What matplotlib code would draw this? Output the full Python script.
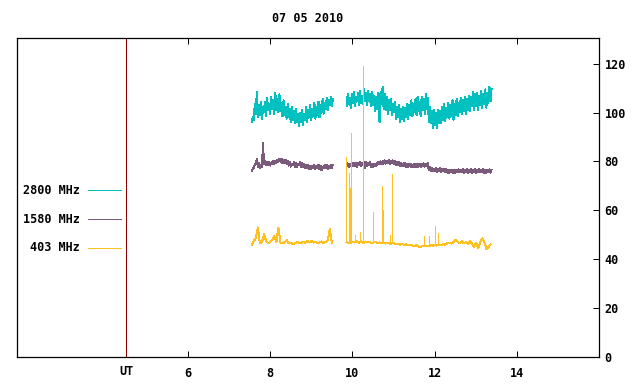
import numpy as np
import matplotlib
matplotlib.use("Agg")
import matplotlib.pyplot as plt
from matplotlib.transforms import blended_transform_factory

plt.rcParams['font.family'] = ['DejaVu Sans Mono']
plt.rcParams['font.weight'] = 'bold'

title = "07 05 2010"
series_labels = ["2800 MHz", "1580 MHz", "403 MHz"]
series_colors = ["#00c0c0", "#7b5b7b", "#ffc020"]
x_ticks = [6, 8, 10, 12, 14]
x_ticklabels = ["6", "8", "10", "12", "14"]
y_ticks = [0, 20, 40, 60, 80, 100, 120]
ut_position = 4.5

# sample times (hours UT) of each segment
seg1_start, seg2_start, step = 7.55, 9.86, 0.05

# 2800 MHz: low / high of each sample
cyan1_lo = [96.0, 97.0, 99.5, 98.0, 99.0, 97.5, 100.0, 98.5, 101.0, 99.5,
            101.5, 99.5, 101.0, 100.0, 100.5, 98.5, 99.0, 97.5, 98.0, 96.0,
            97.0, 95.5, 96.0, 94.5, 96.0, 95.0, 97.0, 96.0, 98.0, 97.0,
            98.5, 97.5, 99.0, 98.0, 100.0, 99.5, 101.5, 101.0, 103.0, 102.5]
cyan1_hi = [98.0, 103.5, 108.5, 103.0, 104.5, 102.5, 104.5, 106.0, 103.5, 106.5,
            105.0, 108.0, 105.5, 107.5, 104.0, 105.0, 102.5, 103.5, 101.5, 102.5,
            100.5, 101.5, 99.5, 100.0, 101.0, 99.5, 102.5, 101.0, 103.0, 101.5,
            104.0, 102.5, 104.5, 103.0, 105.5, 104.0, 106.0, 105.0, 106.5, 105.5]
cyan2_lo = [102.5, 103.5, 102.0, 104.0, 102.5, 104.5, 103.0, 104.0, 103.5, 104.5,
            103.0, 104.5, 102.5, 103.0, 100.5, 101.5, 96.0, 103.5, 101.5, 101.0,
            99.5, 101.0, 99.0, 100.0, 97.5, 98.0, 96.0, 97.5, 96.5, 98.0,
            97.5, 99.0, 98.5, 100.0, 99.0, 100.5, 98.5, 101.0, 99.5, 101.5,
            96.0, 95.5, 93.5, 95.0, 93.5, 95.5, 95.5, 97.0, 96.5, 98.0,
            97.5, 98.5, 97.0, 99.0, 98.5, 100.0, 99.5, 100.5, 99.5, 101.0,
            100.5, 102.5, 101.0, 102.5, 101.0, 103.0, 102.0, 103.5, 102.0, 104.0,
            104.5]
cyan2_hi = [107.5, 106.0, 107.5, 108.5, 106.5, 108.0, 109.0, 107.0, 109.5, 108.0,
            109.0, 107.5, 108.5, 107.0, 106.5, 108.0, 108.5, 110.5, 107.5, 106.5,
            105.0, 105.5, 103.5, 104.5, 102.5, 103.0, 101.5, 102.5, 102.0, 103.5,
            103.0, 105.0, 103.5, 105.5, 106.5, 104.5, 106.5, 105.5, 107.5, 106.0,
            102.5, 100.5, 101.0, 100.0, 101.0, 100.5, 102.5, 103.5, 102.0, 104.0,
            103.0, 105.0, 103.5, 105.5, 104.0, 106.0, 105.0, 106.5, 105.5, 107.0,
            106.5, 108.5, 107.5, 108.0, 107.0, 109.0, 107.5, 109.5, 108.0, 110.5,
            109.5]

# 1580 MHz
purple1_lo = [76.0, 77.4, 79.2, 77.8, 77.4, 77.9, 78.8, 78.4, 78.5, 78.3,
              78.9, 78.8, 79.4, 79.8, 79.9, 79.3, 79.4, 78.9, 78.3, 77.9,
              78.4, 77.8, 77.9, 78.4, 77.8, 77.9, 77.3, 77.4, 76.8, 76.9,
              77.4, 76.8, 77.3, 76.9, 76.3, 77.4, 77.3, 76.9, 77.4, 77.3]
purple1_hi = [77.0, 78.6, 80.9, 79.2, 78.6, 87.5, 80.1, 79.6, 79.7, 79.6,
              80.1, 80.2, 80.6, 81.2, 81.1, 80.7, 80.6, 80.1, 79.7, 79.1,
              79.6, 79.2, 79.1, 79.6, 79.2, 79.1, 78.7, 78.6, 78.2, 78.1,
              78.6, 78.2, 78.7, 78.1, 77.7, 78.6, 78.7, 78.1, 78.6, 78.7]
purple2_lo = [78.0, 77.8, 78.1, 78.0, 78.2, 77.9, 78.4, 78.2, 78.5, 77.4,
              78.1, 78.6, 77.8, 77.6, 78.0, 78.7, 78.9, 79.0, 79.1, 79.1,
              79.3, 78.9, 79.2, 78.8, 78.6, 78.4, 78.2, 78.0, 78.1, 77.8,
              77.7, 77.9, 77.6, 77.8, 77.7, 77.9, 77.8, 78.0, 77.9, 78.1,
              76.3, 76.0, 75.9, 76.1, 75.7, 76.0, 75.6, 75.9, 75.6, 75.4,
              75.2, 75.5, 75.1, 75.4, 75.6, 75.5, 75.6, 75.3, 75.6, 75.3,
              75.6, 75.4, 75.6, 75.3, 75.7, 75.5, 75.7, 75.3, 75.2, 75.6,
              75.4]
purple2_hi = [79.2, 79.0, 79.4, 79.3, 79.5, 79.3, 79.6, 79.5, 79.7, 79.6,
              79.4, 79.8, 79.1, 78.9, 79.2, 79.9, 80.1, 80.2, 80.4, 80.3,
              80.5, 80.2, 80.4, 80.0, 79.8, 79.6, 79.5, 79.2, 79.3, 79.0,
              78.9, 79.1, 78.8, 79.0, 78.9, 79.1, 79.0, 79.2, 79.1, 79.3,
              77.7, 77.2, 77.1, 77.3, 77.0, 77.2, 76.9, 77.1, 76.8, 76.6,
              76.5, 76.7, 76.4, 76.6, 76.8, 76.7, 76.9, 76.6, 76.8, 76.5,
              76.9, 76.7, 76.8, 76.6, 76.9, 76.7, 77.0, 76.6, 76.5, 76.8,
              76.6]

# 403 MHz
orange1 = [45.8, 47.5, 48.5, 53.0, 46.5, 47.0, 50.3, 47.5, 46.5, 47.0,
           48.0, 49.5, 47.0, 53.0, 46.8, 46.5, 47.0, 47.8, 46.5, 46.8,
           46.2, 46.5, 47.0, 46.8, 46.5, 47.2, 46.8, 47.5, 46.9, 47.6,
           46.8, 47.2, 46.5, 46.8, 47.3, 46.6, 47.0, 47.8, 52.2, 46.8]
orange2 = [47.0, 46.5, 46.8, 47.2, 46.9, 47.3, 46.8, 47.5, 46.7, 47.0,
           46.9, 47.2, 46.5, 46.8, 47.0, 46.6, 46.9, 46.5, 46.8, 46.4,
           46.7, 46.3, 46.5, 46.6, 46.2, 46.4, 46.0, 46.3, 45.9, 46.1,
           45.7, 46.0, 45.6, 45.4, 45.8, 45.2, 45.0, 45.5, 45.3, 45.6,
           45.4, 45.8, 45.5, 45.9, 45.6, 46.0, 45.8, 46.2, 46.0, 46.5,
           46.8, 46.4, 47.0, 47.8, 47.2, 46.6, 47.4, 46.5, 47.0, 46.2,
           47.6, 46.4, 45.1, 46.8, 44.5, 47.0, 48.5, 47.2, 44.2, 45.0,
           46.0]
orange2_spike_t = [9.85, 9.92, 9.94, 9.97, 10.07, 10.19, 10.27, 10.51,
                   10.73, 10.75, 10.92, 10.97, 11.75, 11.87, 12.02, 12.09]
orange2_spike_v = [82.0, 75.2, 69.0, 91.7, 50.0, 51.3, 119.0, 59.5,
                   70.0, 60.0, 50.0, 75.0, 49.6, 49.6, 53.6, 50.7]
orange2_spike_base = [47.0, 46.6, 46.8, 46.9, 47.0, 47.2, 46.9, 46.8,
                      46.6, 46.7, 46.4, 46.5, 45.4, 45.6, 45.9, 46.0]


def seg_times(start, n):
    return start + step * np.arange(n)


def zigzag(start, lo, hi):
    t = seg_times(start, len(lo))
    tz = np.empty(2 * len(lo))
    vz = np.empty(2 * len(lo))
    tz[0::2] = t
    tz[1::2] = t + step / 2
    vz[0::2] = lo
    vz[1::2] = hi
    return tz, vz


fig = plt.figure(figsize=(6.4, 3.84), dpi=100)
ax = fig.add_axes([17 / 640, 27 / 384, 582 / 640, 319 / 384])
ax.set_xlim(1.84, 16.0)
ax.set_ylim(0, 130.5)

lw = 0.72
for start, lo, hi in [(seg1_start, cyan1_lo, cyan1_hi), (seg2_start, cyan2_lo, cyan2_hi)]:
    tz, vz = zigzag(start, lo, hi)
    ax.plot(tz, vz, color=series_colors[0], lw=lw, antialiased=False)
for start, lo, hi in [(seg1_start, purple1_lo, purple1_hi), (seg2_start, purple2_lo, purple2_hi)]:
    tz, vz = zigzag(start, lo, hi)
    ax.plot(tz, vz, color=series_colors[1], lw=lw, antialiased=False)

ax.plot(seg_times(seg1_start, len(orange1)), orange1, color=series_colors[2],
        lw=lw, antialiased=False)
ax.plot(seg_times(seg2_start, len(orange2)), orange2, color=series_colors[2],
        lw=lw, antialiased=False)
ax.vlines(orange2_spike_t, orange2_spike_base, orange2_spike_v,
          color=series_colors[2], lw=lw, antialiased=False)

ax.axvline(ut_position, color="#8b0000", lw=lw, antialiased=False)

# legend drawn gnuplot-style on the left
leg_y = [0.5235, 0.4326, 0.3417]
for lab, col, yy in zip(series_labels, series_colors, leg_y):
    ax.plot([0.122, 0.179], [yy, yy], color=col, lw=lw, transform=ax.transAxes,
            antialiased=False)
    ax.text(0.108, yy, lab, transform=ax.transAxes, ha="right", va="center",
            fontsize=8.5, fontweight="bold")

ax.set_xticks(x_ticks)
ax.set_xticklabels(x_ticklabels)
ax.set_yticks(y_ticks)
ax.yaxis.tick_right()
ax.tick_params(axis="x", direction="in", length=4, top=True, bottom=True,
               labelsize=8.5, pad=7, width=0.72)
ax.tick_params(axis="y", direction="in", length=4, right=True, left=False,
               labelsize=8.5, pad=4, width=0.72)
for sp in ax.spines.values():
    sp.set_linewidth(0.9)

trans = blended_transform_factory(ax.transData, ax.transAxes)
ax.text(ut_position, -0.045, "UT", transform=trans, ha="center", va="center",
        fontsize=8.5, fontweight="bold")

fig.text(308 / 640, 1 - 18 / 384, title, ha="center", va="center",
         fontsize=8.5, fontweight="bold")

fig.savefig("out.png", dpi=100)
